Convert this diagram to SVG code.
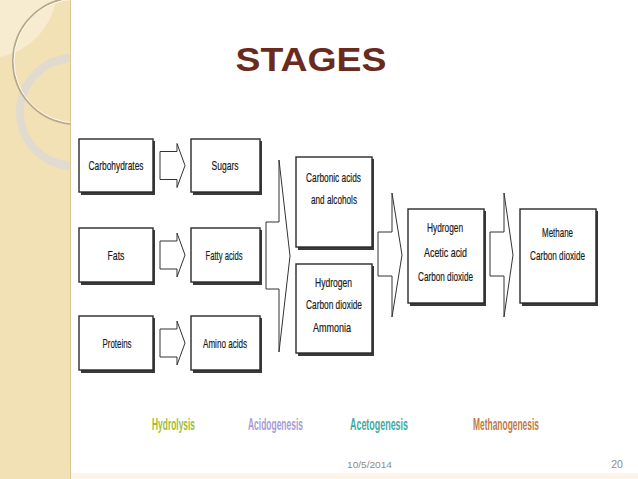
<svg xmlns="http://www.w3.org/2000/svg" width="638" height="479" viewBox="0 0 638 479">
<defs>
<style>
.box{fill:#fff;stroke:#2a2a2a;stroke-width:1.4}
.sh{fill:#3a3a3a}
.arr{fill:#fff;stroke:#333;stroke-width:1}
.t{font-family:"Liberation Sans",Arial,sans-serif;font-size:13.5px;fill:#1a1a1a;text-anchor:middle;stroke:#1a1a1a;stroke-width:0.2}
.st{font-family:"Liberation Sans",Arial,sans-serif;font-size:17px;font-weight:bold;text-anchor:middle}
.ft{font-family:"Liberation Sans",Arial,sans-serif;fill:#8c8c8c;text-anchor:middle}
</style>
<clipPath id="panel"><rect x="0" y="0" width="70" height="479"/></clipPath>
</defs>
<rect x="0" y="0" width="638" height="479" fill="#ffffff"/>
<!-- left decorative panel -->
<g id="panel-deco">
<rect x="0" y="0" width="70" height="479" fill="#f3e1b6"/>
<g clip-path="url(#panel)">
<path d="M0,0 L56,0 A70,70 0 0 1 0,57 Z" fill="#f8ecd0"/>
<circle cx="74" cy="112" r="54" fill="none" stroke="#dedad0" stroke-width="8" opacity="0.9"/>
<circle cx="76" cy="61" r="63" fill="none" stroke="#b8a888" stroke-width="2"/>
<circle cx="76" cy="61" r="62" fill="none" stroke="#fffaf0" stroke-width="1"/>
</g>
<line x1="70.5" y1="0" x2="70.5" y2="479" stroke="#d8c597" stroke-width="1"/>
</g>
<rect x="71" y="473" width="567" height="6" fill="#fdf4e8"/>
<!-- title -->
<text id="title" x="311" y="71" font-family="'Liberation Sans',Arial,sans-serif" font-weight="bold" font-size="34" fill="#6b2b1c" text-anchor="middle" textLength="151" lengthAdjust="spacingAndGlyphs">STAGES</text>
<!-- connectors -->
<g id="connectors">
<polygon class="arr" points="160,151.5 177,151.5 177,143.5 185,165.5 177,187.5 177,179.5 160,179.5"/>
<polygon class="arr" points="160,241 177,241 177,233 185,255 177,277 177,269 160,269"/>
<polygon class="arr" points="160,329 177,329 177,321 185,343 177,365 177,357 160,357"/>
<polygon class="arr" points="266,222 279,222 279,160 290,256 279,352 279,289 266,289"/>
<polygon class="arr" points="378,232 392,232 392,193 402,255 392,317 392,276 378,276"/>
<polygon class="arr" points="490,232 504,232 504,193 513,255 504,317 504,276 490,276"/>
</g>
<!-- nodes -->
<g id="carbohydrates"><rect class="sh" x="81" y="141" width="74" height="54"/><rect class="box" x="79" y="139" width="74" height="53"/><text class="t" x="116" y="170" textLength="55" lengthAdjust="spacingAndGlyphs">Carbohydrates</text></g>
<g id="fats"><rect class="sh" x="81" y="230" width="74" height="55"/><rect class="box" x="79" y="228" width="74" height="54"/><text class="t" x="116" y="259.5" textLength="17" lengthAdjust="spacingAndGlyphs">Fats</text></g>
<g id="proteins"><rect class="sh" x="81" y="318" width="74" height="55"/><rect class="box" x="79" y="316" width="74" height="54"/><text class="t" x="117" y="347.5" textLength="29" lengthAdjust="spacingAndGlyphs">Proteins</text></g>
<g id="sugars"><rect class="sh" x="193" y="141" width="69" height="54"/><rect class="box" x="191" y="139" width="69" height="53"/><text class="t" x="225" y="170" textLength="27" lengthAdjust="spacingAndGlyphs">Sugars</text></g>
<g id="fatty-acids"><rect class="sh" x="193" y="230" width="69" height="55"/><rect class="box" x="191" y="228" width="69" height="54"/><text class="t" x="224" y="259.5" textLength="37" lengthAdjust="spacingAndGlyphs">Fatty acids</text></g>
<g id="amino-acids"><rect class="sh" x="193" y="318" width="69" height="55"/><rect class="box" x="191" y="316" width="69" height="54"/><text class="t" x="225" y="347.5" textLength="44" lengthAdjust="spacingAndGlyphs">Amino acids</text></g>
<g id="carbonic-acids"><rect class="sh" x="298" y="159" width="76" height="91"/><rect class="box" x="296" y="157" width="76" height="90"/><text class="t" x="333.5" y="182" textLength="55" lengthAdjust="spacingAndGlyphs">Carbonic acids</text><text class="t" x="334" y="204" textLength="46" lengthAdjust="spacingAndGlyphs">and alcohols</text></g>
<g id="hydrogen-co2-ammonia"><rect class="sh" x="298" y="266" width="76" height="90"/><rect class="box" x="296" y="264" width="76" height="89"/><text class="t" x="333.5" y="287" textLength="37" lengthAdjust="spacingAndGlyphs">Hydrogen</text><text class="t" x="334" y="309" textLength="56" lengthAdjust="spacingAndGlyphs">Carbon dioxide</text><text class="t" x="332" y="332" textLength="38" lengthAdjust="spacingAndGlyphs">Ammonia</text></g>
<g id="hydrogen-acetic-co2"><rect class="sh" x="410" y="211" width="76" height="95"/><rect class="box" x="408" y="209" width="76" height="94"/><text class="t" x="445" y="232" textLength="36" lengthAdjust="spacingAndGlyphs">Hydrogen</text><text class="t" x="445.5" y="257" textLength="43" lengthAdjust="spacingAndGlyphs">Acetic acid</text><text class="t" x="445.5" y="281" textLength="55" lengthAdjust="spacingAndGlyphs">Carbon dioxide</text></g>
<g id="methane-co2"><rect class="sh" x="522" y="211" width="76" height="95"/><rect class="box" x="520" y="209" width="76" height="94"/><text class="t" x="557.5" y="237" textLength="31" lengthAdjust="spacingAndGlyphs">Methane</text><text class="t" x="557.5" y="260" textLength="55" lengthAdjust="spacingAndGlyphs">Carbon dioxide</text></g>
<!-- stage labels -->
<g id="stage-labels">
<text class="st" x="173.5" y="430" fill="#a4bb2e" textLength="43" lengthAdjust="spacingAndGlyphs">Hydrolysis</text>
<text class="st" x="275.5" y="430" fill="#a99bd2" textLength="55" lengthAdjust="spacingAndGlyphs">Acidogenesis</text>
<text class="st" x="379" y="430" fill="#3fa9a2" textLength="58" lengthAdjust="spacingAndGlyphs">Acetogenesis</text>
<text class="st" x="506" y="430" fill="#bf7a45" textLength="66" lengthAdjust="spacingAndGlyphs">Methanogenesis</text>
</g>
<!-- footer -->
<text class="ft" x="369.5" y="468" font-size="9.5" textLength="45" lengthAdjust="spacingAndGlyphs">10/5/2014</text>
<text class="ft" x="617" y="468" font-size="10.5">20</text>
</svg>
